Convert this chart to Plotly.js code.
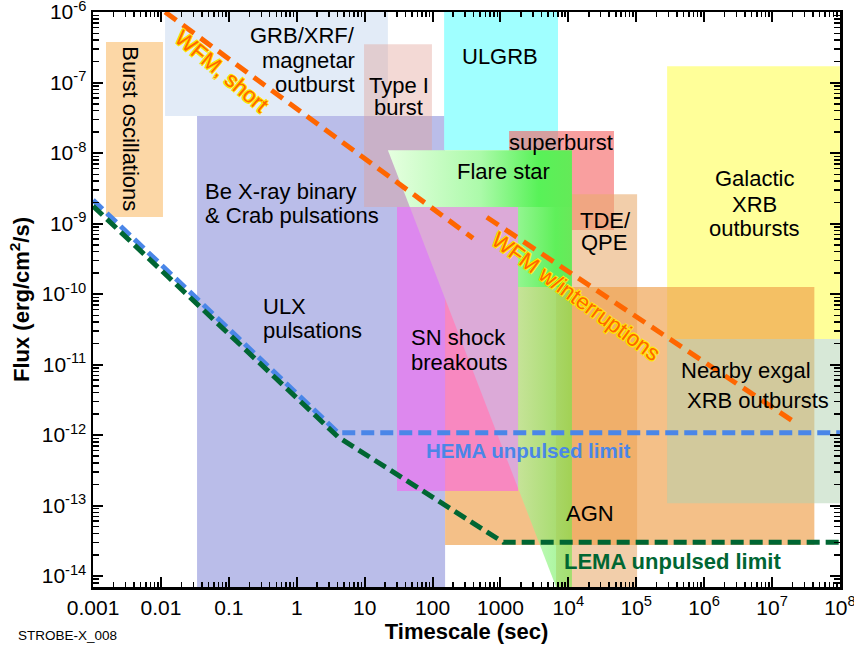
<!DOCTYPE html>
<html><head><meta charset="utf-8">
<script src="https://cdn.plot.ly/plotly-3.0.1.min.js"></script>
<style>html,body{margin:0;padding:0;background:#fff}</style>
</head><body><div id="chart" style="width:854px;height:651px"></div>
<script>
// ---- Source regions: timescale range (s) and flux range (erg/cm^2/s) ----
const regionNames = ['GRB/XRF/magnetar outburst','Burst oscillations','Be X-ray binary, Crab & ULX pulsations','Type I burst','ULGRB','Galactic XRB outbursts','superburst','TDE/QPE','AGN','SN shock breakouts','Nearby exgal XRB outbursts'];
const regionTmin = [0.0115, 0.00155, 0.034, 9.8, 148, 2.85e5, 1340, 6590, 153, 30, 2.85e5];
const regionTmax = [22, 0.0107, 153, 98, 7040, 1e8, 4.7e4, 1.03e5, 4.2e7, 1815, 1e8];
const regionFmin = [3.35e-8, 1.24e-9, 7e-15, 1.71e-9, 1.1e-8, 2.3e-11, 8.1e-10, 7e-15, 2.75e-14, 1.6e-13, 1.08e-13];
const regionFmax = [1e-6, 3.75e-7, 3.35e-8, 3.5e-7, 1e-6, 1.71e-7, 2.05e-8, 2.6e-9, 1.26e-10, 1.71e-9, 2.3e-11];

// Flare star region (polygon)
const flareT = [22, 1.13e4, 1.13e4, 6600];
const flareF = [1.1e-8, 1.1e-8, 7e-15, 7e-15];

// Sensitivity limits
const wfmShortT = [0.0115, 395];
const wfmShortF = [1e-6, 6.2e-10];
const wfmIntT = [630, 2.2e7];
const wfmIntF = [1.23e-9, 1.5e-12];
const hemaT = [0.001, 4.05, 1e8];
const hemaF = [2.15e-9, 1.08e-12, 1.08e-12];
const lemaT = [0.001, 4.06, 1105, 1e8];
const lemaF = [1.77e-9, 9.4e-13, 3.0e-14, 3.0e-14];

// Tick labels
const xTickVals = [1e-3,1e-2,1e-1,1,10,100,1000,1e4,1e5,1e6,1e7,1e8];
const xTickText = ['0.001','0.01','0.1','1','10','100','1000','10<sup>4</sup>','10<sup>5</sup>','10<sup>6</sup>','10<sup>7</sup>','10<sup>8</sup>'];
const yTickVals = [1e-14,1e-13,1e-12,1e-11,1e-10,1e-9,1e-8,1e-7,1e-6];
const yTickText = ['10<sup>-14</sup>','10<sup>-13</sup>','10<sup>-12</sup>','10<sup>-11</sup>','10<sup>-10</sup>','10<sup>-9</sup>','10<sup>-8</sup>','10<sup>-7</sup>','10<sup>-6</sup>'];

// ---- styling ----
const FONT = 'Liberation Sans, Arial, sans-serif';
const regionFill = {
  'GRB/XRF/magnetar outburst':'#e2ebf7',
  'Burst oscillations':'#fcd7a6',
  'Be X-ray binary, Crab & ULX pulsations':'#babde9',
  'Type I burst':'rgba(225,160,150,0.4)',
  'ULGRB':'#a0ffff',
  'Galactic XRB outbursts':'#ffff99',
  'superburst':'rgba(245,100,100,0.62)',
  'TDE/QPE':'rgba(233,170,109,0.58)',
  'AGN':'rgba(238,158,72,0.65)',
  'SN shock breakouts':'#f888c0',
  'Nearby exgal XRB outbursts':'rgba(175,209,175,0.5)'
};

function rectTrace(t0,t1,f0,f1,color){
  return {x:[t0,t1,t1,t0,t0], y:[f0,f0,f1,f1,f0], type:'scatter', mode:'none',
          fill:'toself', fillcolor:color, hoverinfo:'skip', showlegend:false};
}
function idx(n){ return regionNames.indexOf(n); }
function box(n, color){ const i=idx(n); return rectTrace(regionTmin[i],regionTmax[i],regionFmin[i],regionFmax[i],color||regionFill[n]); }

// clip polygon (log space) to rectangle
function clipPoly(px, py, xmin, xmax, ymin, ymax){
  let pts = px.map((v,i)=>[Math.log10(v), Math.log10(py[i])]);
  const lx0=Math.log10(xmin), lx1=Math.log10(xmax), ly0=Math.log10(ymin), ly1=Math.log10(ymax);
  const edges = [
    [p=>p[0]>=lx0, (a,b)=>{const t=(lx0-a[0])/(b[0]-a[0]); return [lx0, a[1]+t*(b[1]-a[1])];}],
    [p=>p[0]<=lx1, (a,b)=>{const t=(lx1-a[0])/(b[0]-a[0]); return [lx1, a[1]+t*(b[1]-a[1])];}],
    [p=>p[1]>=ly0, (a,b)=>{const t=(ly0-a[1])/(b[1]-a[1]); return [a[0]+t*(b[0]-a[0]), ly0];}],
    [p=>p[1]<=ly1, (a,b)=>{const t=(ly1-a[1])/(b[1]-a[1]); return [a[0]+t*(b[0]-a[0]), ly1];}]
  ];
  for (const [inside, inter] of edges){
    const out=[];
    for (let i=0;i<pts.length;i++){
      const cur=pts[i], prev=pts[(i+pts.length-1)%pts.length];
      if (inside(cur)){ if(!inside(prev)) out.push(inter(prev,cur)); out.push(cur); }
      else if (inside(prev)) out.push(inter(prev,cur));
    }
    pts=out;
  }
  pts.push(pts[0]);
  return {x:pts.map(p=>Math.pow(10,p[0])), y:pts.map(p=>Math.pow(10,p[1]))};
}

const traces = [];
['GRB/XRF/magnetar outburst','Burst oscillations','Be X-ray binary, Crab & ULX pulsations','Type I burst','ULGRB','Galactic XRB outbursts','superburst','TDE/QPE','AGN'].forEach(n=>traces.push(box(n)));

// Flare star: gradient polygon, drawn in three flux bands (brighter at top right, fainter over AGN)
const iSN = idx('SN shock breakouts'), iAGN = idx('AGN'), iBe = idx('Be X-ray binary, Crab & ULX pulsations');
const bandEdges = [flareF[0]*1.01, regionFmax[iSN], regionFmax[iAGN], flareF[2]*0.99];
const bandScales = [
  [[0,'rgb(230,255,224)'],[0.5,'rgb(172,250,170)'],[0.82,'rgb(88,242,88)'],[1,'rgb(100,234,88)']],
  [[0,'rgb(215,255,210)'],[0.65,'rgb(150,246,148)'],[0.9,'rgb(95,240,90)'],[1,'rgb(105,232,90)']],
  [[0,'rgb(200,255,190)'],[0.6,'rgb(165,250,160)'],[0.88,'rgb(120,240,100)'],[1,'rgb(110,232,70)']]
];
const bandOpacity = [1, 1, 0.6];
for (let b=0;b<3;b++){
  const c = clipPoly(flareT, flareF, 1e-4, 1e9, bandEdges[b+1], bandEdges[b]);
  traces.push({x:c.x, y:c.y, type:'scatter', mode:'none', fill:'toself',
    fillgradient:{type:'horizontal', colorscale:bandScales[b]}, opacity:bandOpacity[b],
    hoverinfo:'skip', showlegend:false});
}

// SN shock breakouts + overlaps
traces.push(box('SN shock breakouts'));
traces.push(rectTrace(Math.max(regionTmin[iSN],regionTmin[iBe]), Math.min(regionTmax[iSN],regionTmax[iBe]),
  Math.max(regionFmin[iSN],regionFmin[iBe]), Math.min(regionFmax[iSN],regionFmax[iBe]), '#dd88ee'));
{
  const c = clipPoly(flareT, flareF, regionTmin[iSN], regionTmax[iSN], regionFmin[iSN], regionFmax[iSN]);
  traces.push({x:c.x, y:c.y, type:'scatter', mode:'none', fill:'toself', fillcolor:'#dcaad8', hoverinfo:'skip', showlegend:false});
}
traces.push(box('Nearby exgal XRB outbursts'));

function lineTrace(x,y,color,dash,w){
  return {x:x,y:y,type:'scatter',mode:'lines',line:{color:color,width:w,dash:dash},hoverinfo:'skip',showlegend:false};
}
traces.push(lineTrace(wfmShortT, wfmShortF, '#ff6600', '14px,8px', 5));
traces.push(lineTrace(wfmIntT, wfmIntF, '#ff6600', '14px,8px', 5));
traces.push(lineTrace(hemaT, hemaF, '#4a86e8', '13px,6px', 5));
traces.push(lineTrace(lemaT, lemaF, '#006633', '13px,6px', 5));

// ---- labels ----
const L = Math.log10;
function lab(text, t, f, opts){
  opts = opts||{};
  const font = {family:FONT, size:opts.size||22, color:opts.color||'#000'};
  if (opts.bold) font.weight = 'bold';
  if (opts.shadow) font.shadow = opts.shadow;
  return {text:text, x:L(t), y:L(f), xref:'x', yref:'y', showarrow:false,
    xanchor:opts.xa||'center', yanchor:'middle', textangle:opts.angle||0, font:font};
}
const outline = '1px 1px 0 #ffe600, -1px -1px 0 #ffe600, 1px -1px 0 #ffe600, -1px 1px 0 #ffe600';
const annotations = [
  lab('Burst oscillations', 0.00363, 2.24e-8, {angle:90}),
  lab('GRB/XRF/', 7.7, 4.7e-7, {xa:'right'}),
  lab('magnetar', 7.7, 2.08e-7, {xa:'right'}),
  lab('outburst', 7.7, 9.5e-8, {xa:'right'}),
  lab('Type I', 32, 9.2e-8),
  lab('burst', 32, 4.49e-8),
  lab('ULGRB', 986, 2.35e-7),
  lab('superburst', 7800, 1.39e-8),
  lab('Flare star', 1120, 5.56e-9),
  lab('TDE/', 3.5e4, 1.12e-9),
  lab('QPE', 3.4e4, 5.3e-10),
  lab('Galactic', 5.43e6, 4.4e-9),
  lab('XRB', 5.43e6, 1.85e-9),
  lab('outbursts', 5.43e6, 8.4e-10),
  lab('Be X-ray binary', 0.0417, 2.89e-9, {xa:'left'}),
  lab('&amp; Crab pulsations', 0.0417, 1.32e-9, {xa:'left'}),
  lab('ULX', 0.295, 6.65e-11, {xa:'left'}),
  lab('pulsations', 0.295, 3.08e-11, {xa:'left'}),
  lab('SN shock', 45.5, 2.42e-11, {xa:'left'}),
  lab('breakouts', 45.5, 1.08e-11, {xa:'left'}),
  lab('AGN', 2.09e4, 7.8e-14),
  lab('Nearby exgal', 4.14e6, 8.1e-12),
  lab('XRB outbursts', 6.22e6, 3.13e-12),
  lab('HEMA unpulsed limit', 2550, 6.12e-13, {color:'#4a86e8', bold:true, size:20.5}),
  lab('LEMA unpulsed limit', 3.37e5, 1.63e-14, {color:'#006633', bold:true, size:22}),
  lab('WFM, short', 0.0794, 1.45e-7, {color:'#ff6600', size:22, angle:40, shadow:outline}),
  lab('WFM w/interruptions', 1.29e4, 9.2e-11, {color:'#ff6600', size:22, angle:36, shadow:outline}),
  {text:'STROBE-X_008', xref:'paper', yref:'paper', x:-0.103, y:-0.085, xanchor:'left', yanchor:'middle', showarrow:false,
   font:{family:FONT, size:13.5, color:'#000'}}
];

function minorTicks(lo, hi){ const v=[]; for(let e=lo;e<hi;e++){ for(let m=2;m<=9;m++) v.push(m*Math.pow(10,e)); } return v; }

const axisCommon = {type:'log', showgrid:false, zeroline:false, showline:true, linewidth:2.5, linecolor:'#000',
  mirror:'ticks', ticks:'inside', ticklen:10, tickwidth:2, tickcolor:'#000', automargin:false,
  ticklabeloverflow:'allow', tickmode:'array', tickfont:{family:FONT, size:21, color:'#000'}};

const layout = {
  width:854, height:651, margin:{l:93, r:14, t:12, b:64},
  paper_bgcolor:'#fff', plot_bgcolor:'#fff', showlegend:false,
  xaxis: Object.assign({}, axisCommon, {range:[-3.001,8.001], tickvals:xTickVals, ticktext:xTickText,
    minor:{tickmode:'array', tickvals:minorTicks(-3,8), ticks:'inside', ticklen:5, tickwidth:1.5, tickcolor:'#000', showgrid:false},
    title:{text:'Timescale (sec)', font:{family:FONT, size:22, weight:'bold', color:'#000'}, standoff:3}}),
  yaxis: Object.assign({}, axisCommon, {range:[-14.156,-5.999], tickvals:yTickVals, ticktext:yTickText,
    minor:{tickmode:'array', tickvals:minorTicks(-15,-6), ticks:'inside', ticklen:6, tickwidth:1.5, tickcolor:'#000', showgrid:false},
    title:{text:'Flux (erg/cm<sup>2</sup>/s)', font:{family:FONT, size:22, weight:'bold', color:'#000'}, standoff:6}}),
  annotations: annotations
};

Plotly.newPlot('chart', traces, layout, {staticPlot:true, displayModeBar:false});
</script></body></html>
